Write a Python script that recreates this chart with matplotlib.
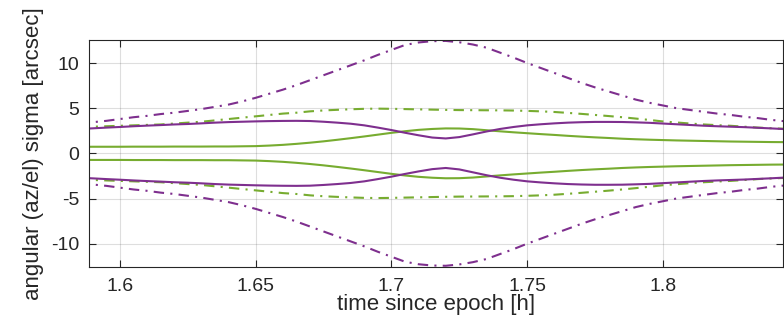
import numpy as np
import matplotlib
matplotlib.use("Agg")
import matplotlib.pyplot as plt

plt.rcParams['font.family'] = ['Liberation Sans', 'DejaVu Sans']

# time since epoch [h]
t = np.round(np.arange(1.585, 1.8451, 0.005), 3)

# purple dash-dot (upper / lower envelope)
purple_env_hi = [3.30, 3.45, 3.60, 3.80, 4.00, 4.15, 4.35, 4.50, 4.70, 4.90,
                 5.15, 5.40, 5.75, 6.15, 6.60, 7.05, 7.55, 8.10, 8.65, 9.20,
                 9.75, 10.30, 10.90, 11.45, 12.00, 12.28, 12.42, 12.45, 12.30, 12.05,
                 11.70, 11.15, 10.60, 10.00, 9.45, 8.90, 8.35, 7.80, 7.30, 6.85,
                 6.40, 5.95, 5.60, 5.30, 5.00, 4.80, 4.60, 4.40, 4.25, 4.05,
                 3.90, 3.70, 3.55]
purple_env_lo = [-3.30, -3.45, -3.60, -3.80, -4.00, -4.15, -4.35, -4.50, -4.70, -4.90,
                 -5.15, -5.40, -5.75, -6.15, -6.60, -7.05, -7.55, -8.10, -8.65, -9.20,
                 -9.75, -10.30, -10.90, -11.45, -12.00, -12.28, -12.42, -12.45, -12.30, -12.05,
                 -11.70, -11.15, -10.60, -10.00, -9.45, -8.90, -8.35, -7.80, -7.30, -6.85,
                 -6.40, -5.95, -5.60, -5.30, -5.00, -4.80, -4.60, -4.40, -4.25, -4.05,
                 -3.90, -3.70, -3.55]

# green dash-dot
green_env_hi = [2.90, 2.95, 3.00, 3.05, 3.10, 3.15, 3.20, 3.30, 3.40, 3.50,
                3.65, 3.80, 3.95, 4.10, 4.25, 4.40, 4.50, 4.65, 4.75, 4.82,
                4.88, 4.93, 4.95, 4.93, 4.90, 4.87, 4.84, 4.81, 4.79, 4.78,
                4.77, 4.76, 4.74, 4.70, 4.65, 4.58, 4.48, 4.37, 4.25, 4.13,
                4.00, 3.85, 3.70, 3.53, 3.42, 3.30, 3.20, 3.12, 3.05, 2.95,
                2.85, 2.78, 2.72]
green_env_lo = [-2.90, -2.95, -3.00, -3.05, -3.10, -3.15, -3.20, -3.30, -3.40, -3.50,
                -3.65, -3.80, -3.95, -4.10, -4.25, -4.40, -4.50, -4.65, -4.75, -4.82,
                -4.88, -4.93, -4.95, -4.93, -4.90, -4.87, -4.84, -4.81, -4.79, -4.78,
                -4.77, -4.76, -4.74, -4.70, -4.65, -4.58, -4.48, -4.37, -4.25, -4.13,
                -4.00, -3.85, -3.70, -3.53, -3.42, -3.30, -3.20, -3.12, -3.05, -2.95,
                -2.85, -2.78, -2.72]

# purple solid
purple_hi = [2.70, 2.77, 2.85, 2.92, 3.00, 3.07, 3.13, 3.20, 3.25, 3.32,
             3.40, 3.46, 3.50, 3.54, 3.57, 3.59, 3.60, 3.58, 3.50, 3.40,
             3.28, 3.10, 2.85, 2.58, 2.28, 2.00, 1.75, 1.65, 1.80, 2.10,
             2.42, 2.70, 2.92, 3.10, 3.22, 3.32, 3.40, 3.45, 3.48, 3.48,
             3.47, 3.43, 3.38, 3.30, 3.22, 3.14, 3.06, 3.00, 2.95, 2.90,
             2.83, 2.76, 2.68]
purple_lo = [-2.70, -2.77, -2.85, -2.92, -3.00, -3.07, -3.13, -3.20, -3.25, -3.32,
             -3.40, -3.46, -3.50, -3.54, -3.57, -3.59, -3.60, -3.58, -3.50, -3.40,
             -3.28, -3.10, -2.85, -2.58, -2.28, -2.00, -1.75, -1.62, -1.78, -2.10,
             -2.42, -2.70, -2.92, -3.10, -3.22, -3.32, -3.40, -3.45, -3.48, -3.48,
             -3.47, -3.43, -3.38, -3.30, -3.22, -3.14, -3.06, -3.00, -2.95, -2.90,
             -2.83, -2.76, -2.68]

# green solid
green_hi = [0.72, 0.73, 0.73, 0.73, 0.74, 0.74, 0.74, 0.75, 0.75, 0.75,
            0.76, 0.76, 0.78, 0.80, 0.86, 0.94, 1.05, 1.18, 1.33, 1.50,
            1.68, 1.87, 2.07, 2.27, 2.45, 2.60, 2.70, 2.76, 2.75, 2.68,
            2.56, 2.44, 2.33, 2.23, 2.13, 2.04, 1.94, 1.85, 1.77, 1.70,
            1.62, 1.56, 1.51, 1.47, 1.43, 1.40, 1.37, 1.34, 1.31, 1.29,
            1.27, 1.25, 1.24]
green_lo = [-0.72, -0.73, -0.73, -0.73, -0.74, -0.74, -0.74, -0.75, -0.75, -0.75,
            -0.76, -0.76, -0.78, -0.80, -0.86, -0.94, -1.05, -1.18, -1.33, -1.50,
            -1.68, -1.87, -2.07, -2.27, -2.45, -2.60, -2.70, -2.76, -2.75, -2.68,
            -2.56, -2.44, -2.33, -2.23, -2.13, -2.04, -1.94, -1.85, -1.77, -1.70,
            -1.62, -1.56, -1.51, -1.47, -1.43, -1.40, -1.37, -1.34, -1.31, -1.29,
            -1.27, -1.25, -1.24]

purple = '#7E2F8E'
green = '#77AC30'
ink = '#262626'

fig = plt.figure(figsize=(7.84, 3.29), dpi=100)
ax = fig.add_axes([0.1135, 0.1894, 0.8852, 0.689])

dd = (5, 3, 1, 3)
ax.plot(t, purple_env_hi, color=purple, lw=1.5, dashes=dd)
ax.plot(t, purple_env_lo, color=purple, lw=1.5, dashes=dd)
ax.plot(t, green_env_hi, color=green, lw=1.5, dashes=dd)
ax.plot(t, green_env_lo, color=green, lw=1.5, dashes=dd)
ax.plot(t, green_hi, color=green, lw=1.5)
ax.plot(t, green_lo, color=green, lw=1.5)
ax.plot(t, purple_hi, color=purple, lw=1.5)
ax.plot(t, purple_lo, color=purple, lw=1.5)

ax.set_xlim(1.5886, 1.8442)
ax.set_ylim(-12.55, 12.55)
ax.set_xticks([1.6, 1.65, 1.7, 1.75, 1.8])
ax.set_xticklabels(['1.6', '1.65', '1.7', '1.75', '1.8'])
ax.set_yticks([-10, -5, 0, 5, 10])
ax.set_yticklabels(['-10', '-5', '0', '5', '10'])

ax.grid(True, color=ink, alpha=0.15, lw=0.8)
ax.set_axisbelow(True)
for s in ax.spines.values():
    s.set_color(ink)
    s.set_linewidth(0.8)
ax.tick_params(direction='in', length=5, width=0.8, color=ink, labelcolor=ink,
               labelsize=14, top=True, right=True)
ax.tick_params(axis='y', pad=7)
ax.tick_params(axis='x', pad=8.5)

ax.set_xlabel('time since epoch [h]', fontsize=16, color=ink, labelpad=-1)
ax.set_ylabel('angular (az/el) sigma [arcsec]', fontsize=16, color=ink, labelpad=5)

fig.savefig('out.png', dpi=100)
